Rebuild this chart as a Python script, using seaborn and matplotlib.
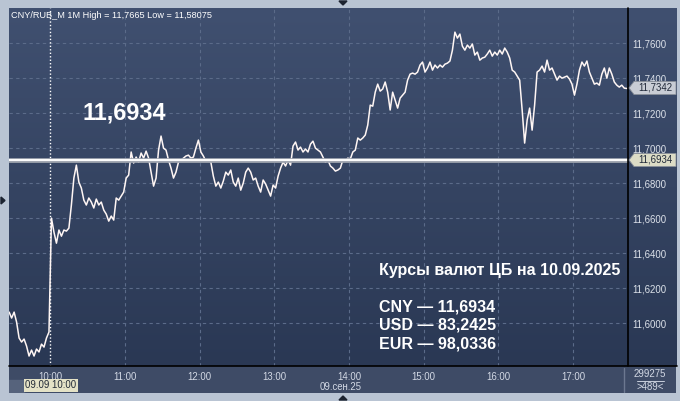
import numpy as np
import pandas as pd
import matplotlib
matplotlib.use("Agg")
import matplotlib.pyplot as plt
import seaborn as sns
from matplotlib.patches import Rectangle, Polygon
from matplotlib.lines import Line2D
from matplotlib.colors import LinearSegmentedColormap

# ---------------- data ----------------
start_time = "2025-09-09 09:27"
step = "2min"
prices = [
    11.6064, 11.6030, 11.6064, 11.6007, 11.5916, 11.5893, 11.5910, 11.5870, 11.5813, 11.5847,
    11.5813, 11.5853, 11.5836, 11.5881, 11.5864, 11.5916, 11.5950, 11.6601, 11.6521, 11.6458,
    11.6533, 11.6498, 11.6533, 11.6527, 11.6544, 11.6676, 11.6830, 11.6904, 11.6807, 11.6773,
    11.6704, 11.6676, 11.6716, 11.6693, 11.6659, 11.6710, 11.6676, 11.6693, 11.6647, 11.6624,
    11.6584, 11.6613, 11.6590, 11.6716, 11.6704, 11.6727, 11.6750, 11.6830, 11.6847, 11.6979,
    11.6916, 11.6950, 11.6921, 11.6973, 11.6944, 11.6984, 11.6944, 11.6864, 11.6784, 11.6830,
    11.6990, 11.7070, 11.7001, 11.6990, 11.6933, 11.6887, 11.6830, 11.6864, 11.6921, 11.6933,
    11.6944, 11.6956, 11.6961, 11.6944, 11.6950, 11.7001, 11.7047, 11.6979, 11.6956, 11.6927,
    11.6933, 11.6921, 11.6841, 11.6784, 11.6807, 11.6773, 11.6813, 11.6864, 11.6847, 11.6876,
    11.6807, 11.6784, 11.6830, 11.6761, 11.6801, 11.6864, 11.6887, 11.6864, 11.6819, 11.6830,
    11.6784, 11.6750, 11.6819, 11.6796, 11.6761, 11.6727, 11.6790, 11.6773, 11.6841, 11.6887,
    11.6921, 11.6899, 11.6933, 11.6904, 11.7013, 11.7036, 11.6990, 11.7007, 11.6979, 11.6996,
    11.6979, 11.7024, 11.7041, 11.7001, 11.6990, 11.6979, 11.6950, 11.6921, 11.6933, 11.6899,
    11.6887, 11.6870, 11.6876, 11.6887, 11.6933, 11.6927, 11.6944, 11.6939, 11.6979, 11.6990,
    11.7059, 11.7047, 11.7059, 11.7076, 11.7133, 11.7247, 11.7241, 11.7321, 11.7367, 11.7327,
    11.7339, 11.7379, 11.7321, 11.7219, 11.7321, 11.7276, 11.7230, 11.7287, 11.7304, 11.7321,
    11.7390, 11.7424, 11.7430, 11.7424, 11.7436, 11.7476, 11.7493, 11.7436, 11.7459, 11.7493,
    11.7447, 11.7476, 11.7459, 11.7476, 11.7464, 11.7481, 11.7487, 11.7499, 11.7561, 11.7664,
    11.7630, 11.7653, 11.7584, 11.7561, 11.7590, 11.7573, 11.7596, 11.7533, 11.7550, 11.7504,
    11.7516, 11.7521, 11.7539, 11.7561, 11.7527, 11.7550, 11.7533, 11.7561, 11.7539, 11.7573,
    11.7550, 11.7516, 11.7447, 11.7436, 11.7413, 11.7390, 11.7219, 11.7030, 11.7161, 11.7230,
    11.7104, 11.7247, 11.7436, 11.7447, 11.7470, 11.7436, 11.7504, 11.7447, 11.7459, 11.7424,
    11.7390, 11.7413, 11.7401, 11.7407, 11.7413, 11.7396, 11.7367, 11.7304, 11.7367, 11.7447,
    11.7493, 11.7470, 11.7499, 11.7436, 11.7401, 11.7367, 11.7373, 11.7361, 11.7424, 11.7459,
    11.7401, 11.7459, 11.7424, 11.7379, 11.7361, 11.7350, 11.7361, 11.7344, 11.7342,
]
hour_labels = ["10:00", "11:00", "12:00", "13:00", "14:00", "15:00", "16:00", "17:00"]
y_ticks = [11.60, 11.62, 11.64, 11.66, 11.68, 11.70, 11.72, 11.74, 11.76]
cb_rate = 11.6934
last_price = 11.7342
high_text = "11,7665"
low_text = "11,58075"
cb_lines = ["CNY — 11,6934", "USD — 83,2425", "EUR — 98,0336"]
cb_title = "Курсы валют ЦБ на 10.09.2025"
date_label = "09.сен.25"
cursor_label = "09.09 10:00"
volume_text = "299275"
count_text = ">489<"

times = pd.date_range(start_time, periods=len(prices), freq=step)
df = pd.DataFrame({"minute": times.hour * 60 + times.minute, "price": prices})
hour_minutes = [int(h.split(":")[0]) * 60 for h in hour_labels]

# ---------------- figure ----------------
W, H = 680, 401
sns.set_theme(style="dark")
plt.rcParams["font.family"] = ["Liberation Sans", "DejaVu Sans"]

fig = plt.figure(figsize=(W / 100, H / 100), dpi=100)
fig.patch.set_facecolor("#b9c4d3")

def fx(px):
    return px / W

def fy(py):
    return 1 - py / H

# dark panel with vertical gradient
bg = fig.add_axes([fx(8.5), fy(366), (676.5 - 8.5) / W, (366 - 8) / H], zorder=0)
grad = np.linspace(0, 1, 256).reshape(-1, 1)
cmap = LinearSegmentedColormap.from_list("g", ["#405070", "#2a3854"])
bg.imshow(grad, aspect="auto", cmap=cmap, extent=[0, 1, 1, 0])
bg.set_axis_off()

# bottom strip
strip = fig.add_axes([fx(8.5), fy(393), (676.5 - 8.5) / W, (393 - 366) / H], zorder=0)
strip.set_xlim(8.5, 676.5)
strip.set_ylim(393, 366)
strip.add_patch(Rectangle((8.5, 366), 668, 27, color="#3e4b66"))
strip.add_patch(Rectangle((8.5, 380), 16, 13, color="#56637c"))
strip.plot([624, 624], [368, 392], color="#6c7890", lw=1)
strip.set_axis_off()

ax = fig.add_axes([fx(8.5), fy(366), (628 - 8.5) / W, (366 - 8) / H], zorder=2)
ax.patch.set_alpha(0)

sns.lineplot(data=df, x="minute", y="price", ax=ax, color="#fff6f4", lw=1.1, zorder=5)

ax.set_xlim(566.5, 1064)
ax.set_ylim(11.5756, 11.7802)
ax.set_xlabel("")
ax.set_ylabel("")

# grid
for v in y_ticks:
    ax.axhline(v, color="#5b6b89", lw=0.8, ls=(0, (3, 3)), zorder=1)
for m in hour_minutes[1:]:
    ax.axvline(m, color="#5b6b89", lw=0.8, ls=(0, (3, 3)), zorder=1)
ax.axvline(hour_minutes[0], color="white", lw=1.0, ls=(0, (1, 1.5)), zorder=3)

# CB line
ax.axhline(cb_rate, color="#a3a8b2", lw=3.4, zorder=6)
ax.axhline(cb_rate, color="white", lw=1.4, zorder=7)

# y tick labels on the right
ax.yaxis.tick_right()
ax.set_yticks(y_ticks)
ax.set_yticklabels([f"{v:.4f}".replace(".", ",") for v in y_ticks],
                   fontsize=6.9, color="#dde2ea")
ax.tick_params(axis="y", length=0, pad=3)
ax.set_xticks(hour_minutes)
ax.set_xticklabels(hour_labels, fontsize=6.9, color="#d3d9e5")
ax.tick_params(axis="x", length=0, pad=4)
for s in ax.spines.values():
    s.set_visible(False)
ax.grid(False)

# frame lines
fig.add_artist(Line2D([fx(628), fx(628)], [fy(8), fy(366)], color="black", lw=1.2, zorder=10))
fig.add_artist(Line2D([fx(8.5), fx(676.5)], [fy(366), fy(366)], color="black", lw=1.2, zorder=10))

# texts
fig.text(fx(11), fy(15), f"CNY/RUB_M 1M High = {high_text} Low = {low_text}",
         fontsize=6.6, color="white", va="center", ha="left", zorder=11)
fig.text(fx(82), fy(113), f"{cb_rate:.4f}".replace(".", ","), fontsize=16.8,
         fontweight="bold", color="white", va="center", ha="left", zorder=11)
fig.text(fx(379), fy(270), cb_title, fontsize=11.5, fontweight="bold",
         color="white", va="center", ha="left", zorder=11)
for i, t in enumerate(cb_lines):
    fig.text(fx(379), fy(307 + 18.5 * i), t, fontsize=11.5, fontweight="bold",
             color="white", va="center", ha="left", zorder=11)

# price tags
def tag(py, text, face):
    pts = [(fx(629), fy(py)), (fx(634), fy(py - 6.5)), (fx(676), fy(py - 6.5)),
           (fx(676), fy(py + 6.5)), (fx(634), fy(py + 6.5))]
    fig.add_artist(Polygon(pts, closed=True, facecolor=face, edgecolor="#8a909a",
                           lw=0.6, zorder=12, transform=fig.transFigure))
    fig.text(fx(655), fy(py), text, fontsize=6.9, color="#1f2838",
             ha="center", va="center", zorder=13)

tag(88, f"{last_price:.4f}".replace(".", ","), "#c9cdd5")
tag(160, f"{cb_rate:.4f}".replace(".", ","), "#dcdcc6")

# bottom strip texts
fig.text(fx(341), fy(386.5), date_label, fontsize=6.9, color="#d3d9e5",
         ha="center", va="center", zorder=11)
fig.text(fx(51), fy(385.5), cursor_label, fontsize=6.9, color="#222a36",
         ha="center", va="center", zorder=12,
         bbox=dict(boxstyle="square,pad=0.15", facecolor="#e4e2c6", edgecolor="none"))
fig.text(fx(650), fy(374), volume_text, fontsize=6.9, color="#d3d9e5",
         ha="center", va="center", zorder=11)
fig.add_artist(Line2D([fx(637), fx(664)], [fy(380.5), fy(380.5)], color="#c8cfdc", lw=0.7))
fig.text(fx(650), fy(387), count_text, fontsize=6.9, color="#d3d9e5",
         ha="center", va="center", zorder=11)

# small markers
fig.add_artist(Polygon([(fx(339), fy(1)), (fx(347), fy(1)), (fx(343), fy(5))],
                       closed=True, color="#1c2330", transform=fig.transFigure))
fig.add_artist(Polygon([(fx(339), fy(400)), (fx(347), fy(400)), (fx(343), fy(396))],
                       closed=True, color="#1c2330", transform=fig.transFigure))
fig.add_artist(Polygon([(fx(1), fy(197)), (fx(1), fy(204)), (fx(5), fy(200.5))],
                       closed=True, color="#1c2330", transform=fig.transFigure))

fig.savefig("out.png", dpi=100, facecolor=fig.get_facecolor())
